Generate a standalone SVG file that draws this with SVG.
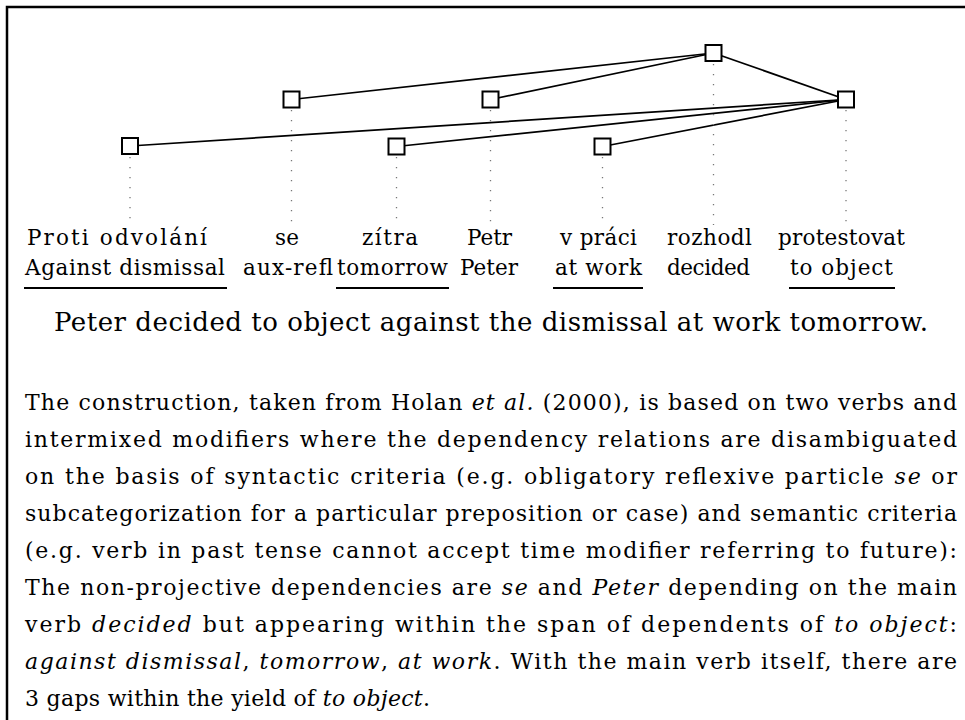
<svg xmlns="http://www.w3.org/2000/svg" width="965" height="720" viewBox="0 0 965 720">
<style>
  .frame { fill: none; stroke: #000; stroke-width: 2.5; }
  .box { fill: #fff; stroke: #000; stroke-width: 2; }
  .edge { stroke: #000; stroke-width: 1.7; fill: none; }
  .stem { stroke: #777; stroke-width: 1.3; stroke-dasharray: 1.2 8.8; fill: none; }
  .ul { stroke: #000; stroke-width: 2; }
  text { font-family: "DejaVu Serif", "Liberation Serif", serif; fill: #000; }
  .lbl { font-size: 21.5px; }
  .mid { text-anchor: middle; }
  .cap { font-size: 26px; }
  .body { font-size: 22px; }
  .it { font-style: italic; }
</style>
<rect class="frame" x="7" y="7" width="1000" height="800"/>

<g id="connectors">
  <line class="edge" x1="713.5" y1="53" x2="291.5" y2="99.5"/>
  <line class="edge" x1="713.5" y1="53" x2="490.5" y2="99.5"/>
  <line class="edge" x1="713.5" y1="53" x2="846" y2="99.5"/>
  <line class="edge" x1="846" y1="99.5" x2="130" y2="146"/>
  <line class="edge" x1="846" y1="99.5" x2="396.5" y2="146.5"/>
  <line class="edge" x1="846" y1="99.5" x2="602.5" y2="146.5"/>
</g>

<g id="node-proti">
  <line class="stem" x1="130" y1="157" x2="130" y2="225"/>
  <rect class="box" x="122" y="138" width="16" height="16"/>
  <text class="lbl" x="27" y="245" textLength="180" lengthAdjust="spacing">Proti odvolání</text>
  <text class="lbl" x="25" y="275" textLength="200" lengthAdjust="spacing">Against dismissal</text>
  <line class="ul" x1="24" y1="288" x2="227" y2="288"/>
</g>

<g id="node-se">
  <line class="stem" x1="291.5" y1="110" x2="291.5" y2="225"/>
  <rect class="box" x="283.5" y="91.5" width="16" height="16"/>
  <text class="lbl mid" x="287" y="245">se</text>
  <text class="lbl" x="243" y="275" textLength="90" lengthAdjust="spacing">aux-refl</text>
</g>

<g id="node-zitra">
  <line class="stem" x1="396.5" y1="157" x2="396.5" y2="225"/>
  <rect class="box" x="388.5" y="138.5" width="16" height="16"/>
  <text class="lbl" x="362" y="245" textLength="56" lengthAdjust="spacing">zítra</text>
  <text class="lbl" x="337" y="275" textLength="111" lengthAdjust="spacing">tomorrow</text>
  <line class="ul" x1="336" y1="288" x2="449" y2="288"/>
</g>

<g id="node-petr">
  <line class="stem" x1="490.5" y1="110" x2="490.5" y2="225"/>
  <rect class="box" x="482.5" y="91.5" width="16" height="16"/>
  <text class="lbl mid" x="489.5" y="245">Petr</text>
  <text class="lbl mid" x="489" y="275">Peter</text>
</g>

<g id="node-vpraci">
  <line class="stem" x1="602.5" y1="157" x2="602.5" y2="225"/>
  <rect class="box" x="594.5" y="138.5" width="16" height="16"/>
  <text class="lbl" x="560" y="245" textLength="77" lengthAdjust="spacing">v práci</text>
  <text class="lbl" x="555" y="275" textLength="87" lengthAdjust="spacing">at work</text>
  <line class="ul" x1="553" y1="288" x2="643" y2="288"/>
</g>

<g id="node-rozhodl">
  <line class="stem" x1="713.5" y1="64" x2="713.5" y2="225"/>
  <rect class="box" x="705.5" y="45" width="16" height="16"/>
  <text class="lbl" x="667" y="245" textLength="85" lengthAdjust="spacing">rozhodl</text>
  <text class="lbl" x="667" y="275" textLength="83" lengthAdjust="spacing">decided</text>
</g>

<g id="node-protestovat">
  <line class="stem" x1="846" y1="110" x2="846" y2="225"/>
  <rect class="box" x="838" y="91.5" width="16" height="16"/>
  <text class="lbl" x="778" y="245" textLength="127" lengthAdjust="spacing">protestovat</text>
  <text class="lbl" x="790" y="275" textLength="103" lengthAdjust="spacing">to object</text>
  <line class="ul" x1="789" y1="288" x2="895" y2="288"/>
</g>

<text class="cap" x="54" y="331" textLength="874" lengthAdjust="spacing">Peter decided to object against the dismissal at work tomorrow.</text>

<g id="paragraph">
  <text class="body" x="25" y="410" textLength="932" lengthAdjust="spacing">The construction, taken from Holan <tspan class="it">et al.</tspan> (2000), is based on two verbs and</text>
  <text class="body" x="25" y="447" textLength="932" lengthAdjust="spacing">intermixed modifiers where the dependency relations are disambiguated</text>
  <text class="body" x="25" y="484" textLength="932" lengthAdjust="spacing">on the basis of syntactic criteria (e.g. obligatory reflexive particle <tspan class="it">se</tspan> or</text>
  <text class="body" x="25" y="521" textLength="932" lengthAdjust="spacing">subcategorization for a particular preposition or case) and semantic criteria</text>
  <text class="body" x="25" y="558" textLength="932" lengthAdjust="spacing">(e.g. verb in past tense cannot accept time modifier referring to future):</text>
  <text class="body" x="25" y="595" textLength="932" lengthAdjust="spacing">The non-projective dependencies are <tspan class="it">se</tspan> and <tspan class="it">Peter</tspan> depending on the main</text>
  <text class="body" x="25" y="632" textLength="932" lengthAdjust="spacing">verb <tspan class="it">decided</tspan> but appearing within the span of dependents of <tspan class="it">to object</tspan>:</text>
  <text class="body" x="25" y="669" textLength="932" lengthAdjust="spacing"><tspan class="it">against dismissal</tspan>, <tspan class="it">tomorrow</tspan>, <tspan class="it">at work</tspan>. With the main verb itself, there are</text>
  <text class="body" x="25" y="706" textLength="405" lengthAdjust="spacing">3 gaps within the yield of <tspan class="it">to object</tspan>.</text>
</g>
</svg>
